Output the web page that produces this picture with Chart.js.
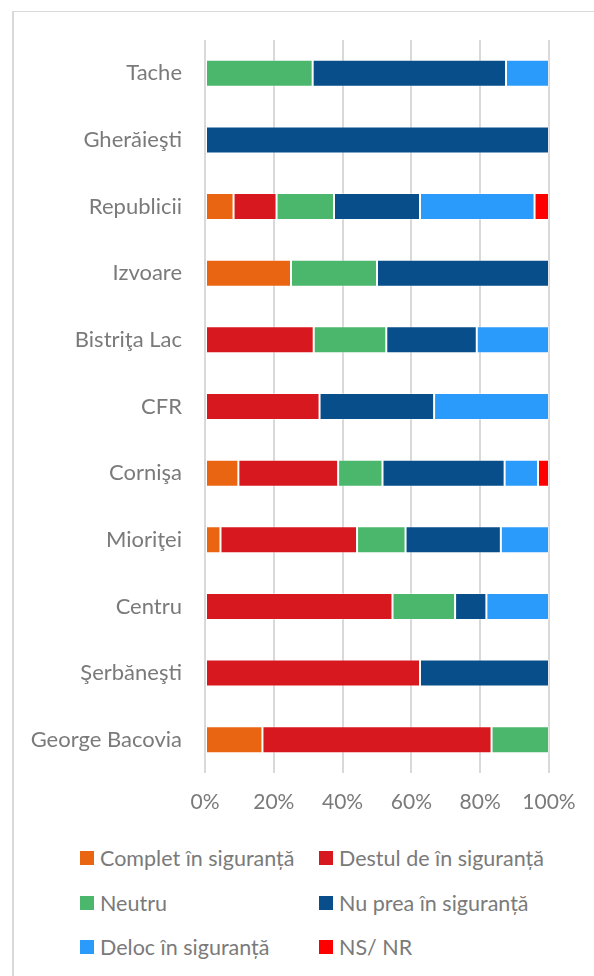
<!DOCTYPE html>
<html>
<head>
<meta charset="utf-8">
<script src="https://cdn.jsdelivr.net/npm/chart.js@4"></script>
<style>
    html, body { margin: 0; padding: 0; background: #fff; }
    body { width: 594px; height: 976px; position: relative; overflow: hidden; font-family: Lato, "Open Sans", sans-serif; }
    #frame { position: absolute; left: 12px; top: 11px; width: 600px; height: 1000px; border-top: 1px solid #d9d9d9; border-left: 2px solid #d9d9d9; }
    #wrap { position: absolute; left: 0; top: 0; width: 594px; height: 830px; }
    #legend { position: absolute; left: 0; top: 0; }
    .leg-item { position: absolute; display: flex; align-items: center; color: #7a7a7a; font-size: 21.5px; white-space: nowrap; }
    .leg-box { width: 14px; height: 14px; margin-right: 6px; }
</style>
</head>
<body>
<div id="frame"></div>
<div id="wrap"><canvas id="safetyChart"></canvas></div>
<div id="legend"></div>
<script>
    // Neighbourhoods, top to bottom
    const categories = ['Tache', 'Gherăieşti', 'Republicii', 'Izvoare', 'Bistriţa Lac', 'CFR', 'Cornişa', 'Mioriţei', 'Centru', 'Şerbăneşti', 'George Bacovia'];

    // Shares of answers (%) per neighbourhood
    const complet   = [0,    0,   8.3,  25,   0,    0,    9.7,  4.5,  0,    0,    16.7];
    const destul    = [0,    0,   12.5, 0,    31.6, 33.3, 29.0, 39.7, 54.5, 62.5, 66.6];
    const neutru    = [31.3, 0,   16.7, 25,   21.1, 0,    12.9, 14.1, 18.2, 0,    16.7];
    const nuPrea    = [56.2, 100, 25.0, 50,   26.3, 33.3, 35.5, 27.7, 9.1,  37.5, 0];
    const deloc     = [12.5, 0,   33.3, 0,    21.0, 33.4, 9.7,  14.0, 18.2, 0,    0];
    const nsnr      = [0,    0,   4.2,  0,    0,    0,    3.2,  0,    0,    0,    0];

    const xTicks = [0, 20, 40, 60, 80, 100];

    const textColor = '#7a7a7a';

    const datasets = [
        { label: 'Complet în siguranță', data: complet, backgroundColor: '#ea6512' },
        { label: 'Destul de în siguranță', data: destul, backgroundColor: '#d7191f' },
        { label: 'Neutru', data: neutru, backgroundColor: '#4ab76d' },
        { label: 'Nu prea în siguranță', data: nuPrea, backgroundColor: '#074e8a' },
        { label: 'Deloc în siguranță', data: deloc, backgroundColor: '#2a9bfb' },
        { label: 'NS/ NR', data: nsnr, backgroundColor: '#ff0000' }
    ].map(ds => Object.assign(ds, {
        borderColor: 'rgba(255,255,255,0.35)',
        borderWidth: 1,
        borderSkipped: false,
        barPercentage: 0.405,
        categoryPercentage: 1
    }));

    const ctx = document.getElementById('safetyChart').getContext('2d');
    const chart = new Chart(ctx, {
        type: 'bar',
        data: { labels: categories, datasets: datasets },
        options: {
            indexAxis: 'y',
            responsive: true,
            maintainAspectRatio: false,
            animation: false,
            layout: { padding: { top: 40, right: 45, left: 0, bottom: 0 } },
            scales: {
                x: {
                    stacked: true,
                    min: 0,
                    max: 100,
                    afterBuildTicks: axis => { axis.ticks = xTicks.map(v => ({ value: v })); },
                    afterFit: axis => { axis.height = 57; },
                    border: { display: false },
                    grid: { color: '#d9d9d9', lineWidth: 2, drawTicks: false },
                    ticks: {
                        padding: 17,
                        color: textColor,
                        font: { family: 'Lato', size: 21 },
                        callback: v => v + '%'
                    }
                },
                y: {
                    stacked: true,
                    afterFit: axis => { axis.width = 205; },
                    border: { display: false },
                    grid: { display: false, drawTicks: false },
                    ticks: {
                        padding: 23,
                        color: textColor,
                        font: { family: 'Lato', size: 22 }
                    }
                }
            },
            plugins: {
                legend: { display: false },
                tooltip: { enabled: false }
            }
        }
    });

    // Two-column legend built from the datasets
    const legend = document.getElementById('legend');
    const colX = [80, 319];
    const rowY = [858, 903, 947];
    datasets.forEach((ds, i) => {
        const item = document.createElement('div');
        item.className = 'leg-item';
        item.style.left = colX[i % 2] + 'px';
        item.style.top = (rowY[Math.floor(i / 2)] - 14) + 'px';
        item.style.height = '28px';
        const box = document.createElement('span');
        box.className = 'leg-box';
        box.style.background = ds.backgroundColor;
        const txt = document.createElement('span');
        txt.textContent = ds.label;
        item.appendChild(box);
        item.appendChild(txt);
        legend.appendChild(item);
    });
</script>
</body>
</html>
